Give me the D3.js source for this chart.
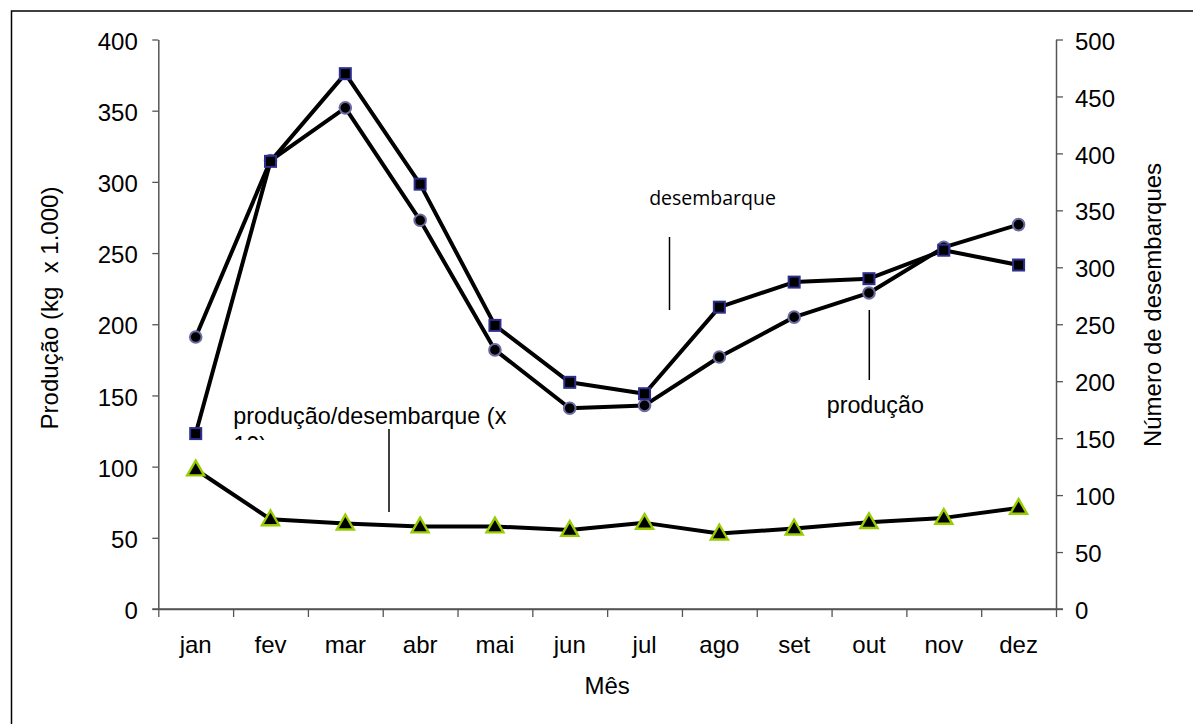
<!DOCTYPE html>
<html><head><meta charset="utf-8">
<script src="https://cdn.jsdelivr.net/npm/d3@7"></script>
<style>
body{margin:0;background:#fff}
svg{display:block}
</style>
</head><body>
<svg id="chart" width="1193" height="724"></svg>
<script>
const months = ["jan","fev","mar","abr","mai","jun","jul","ago","set","out","nov","dez"];
const producao = [191,315,352,273,182,141,143,177,205,222,254,270];       // kg x 1.000 (left axis)
const desembarques = [154,393,470,373,249,199,189,265,287,290,315,302];   // número (right axis)
const razao = [98,63,60,58,58,55.5,60.5,53,56.5,61,64,71];                // produção/desembarque (x 10)
const leftTicks = [0,50,100,150,200,250,300,350,400];
const rightTicks = [0,50,100,150,200,250,300,350,400,450,500];

const svg = d3.select("#chart");
const FONT = "'Liberation Sans', Arial, sans-serif";
const L = 158.3, R = 1056, T = 39.5, B = 609;

// outer frame
svg.append("rect").attr("x",11.5).attr("y",11).attr("width",1200).attr("height",800)
  .attr("fill","none").attr("stroke","#000").attr("stroke-width",1.5);

const x = d3.scaleBand().domain(months).range([L,R]).padding(0);
const xi = d3.scaleLinear().domain([0,12]).range([L,R]);
const yL = d3.scaleLinear().domain([0,400]).range([B,T]);
const yR = d3.scaleLinear().domain([0,500]).range([B,T]);
const cx = m => x(m) + x.bandwidth()/2;

const axisColor = "#555";
const gL = svg.append("g").attr("transform",`translate(${L},0)`)
  .call(d3.axisLeft(yL).tickValues(leftTicks).tickSize(6).tickSizeOuter(0).tickPadding(14.5));
const gR = svg.append("g").attr("transform",`translate(${R},0)`)
  .call(d3.axisRight(yR).tickValues(rightTicks).tickSize(7).tickSizeOuter(0).tickPadding(12));
const gB = svg.append("g").attr("transform",`translate(0,${B})`)
  .call(d3.axisBottom(xi).tickValues(d3.range(0,13)).tickFormat("").tickSize(8).tickSizeOuter(0));
const gBL = svg.append("g").attr("transform",`translate(0,${B})`)
  .call(d3.axisBottom(x).tickSize(0).tickSizeOuter(0));
gBL.select(".domain").remove();
gBL.selectAll("text").attr("y",44).attr("dy",0);

[gL,gR,gB,gBL].forEach(g=>{
  g.selectAll(".domain").attr("stroke",axisColor).attr("stroke-width",1.5);
  g.selectAll(".tick line").attr("stroke",axisColor).attr("stroke-width",1.3);
  g.selectAll("text").attr("font-family",FONT).attr("font-size",24).attr("fill","#000");
});
gL.selectAll("text").attr("dy","0.4em");
gR.selectAll("text").attr("dy","0.4em");
svg.append("line").attr("x1",L-6).attr("x2",R+7).attr("y1",B).attr("y2",B)
  .attr("stroke",axisColor).attr("stroke-width",1.5);

// axis titles
svg.append("text").attr("transform","translate(58,308) rotate(-90)")
  .attr("text-anchor","middle").attr("font-family",FONT).attr("font-size",24)
  .style("white-space","pre").text("Produção (kg  x 1.000)");
svg.append("text").attr("transform","translate(1161,305) rotate(-90)")
  .attr("text-anchor","middle").attr("font-family",FONT).attr("font-size",24)
  .text("Número de desembarques");
svg.append("text").attr("x",(L+R)/2).attr("y",694).attr("text-anchor","middle")
  .attr("font-family",FONT).attr("font-size",24).text("Mês");

const line = (ys, vals) => d3.line().x((d,i)=>cx(months[i])).y(d=>ys(d))(vals);

// produção series (circles)
svg.append("path").attr("d",line(yL,producao)).attr("fill","none")
  .attr("stroke","#000").attr("stroke-width",4).attr("stroke-linejoin","round");
svg.append("g").selectAll("circle").data(producao).join("circle")
  .attr("cx",(d,i)=>cx(months[i])).attr("cy",d=>yL(d)).attr("r",5.8)
  .attr("fill","#000").attr("stroke","#6b6ba3").attr("stroke-width",2);

// desembarques series (squares)
svg.append("path").attr("d",line(yR,desembarques)).attr("fill","none")
  .attr("stroke","#000").attr("stroke-width",4).attr("stroke-linejoin","round");
svg.append("g").selectAll("rect").data(desembarques).join("rect")
  .attr("x",(d,i)=>cx(months[i])-5.5).attr("y",d=>yR(d)-5.5).attr("width",11).attr("height",11)
  .attr("fill","#000").attr("stroke","#2e2e8f").attr("stroke-width",2);

// razão series (triangles)
svg.append("path").attr("d",line(yL,razao)).attr("fill","none")
  .attr("stroke","#000").attr("stroke-width",4).attr("stroke-linejoin","round");
const tri = d3.symbol().type(d3.symbolTriangle).size(125);
svg.append("g").selectAll("path").data(razao).join("path")
  .attr("d",tri).attr("transform",(d,i)=>`translate(${cx(months[i])},${yL(d)+1})`)
  .attr("fill","#000").attr("stroke","#99cc00").attr("stroke-width",2.4);

// annotations
svg.append("text").attr("x",712.5).attr("y",205).attr("text-anchor","middle")
  .attr("font-family","'Open Sans', sans-serif").attr("font-size",19.5).text("desembarque");
svg.append("line").attr("x1",669.5).attr("x2",669.5).attr("y1",237).attr("y2",310)
  .attr("stroke","#000").attr("stroke-width",1.5);

svg.append("text").attr("x",826.7).attr("y",413).attr("font-family",FONT)
  .attr("font-size",23.3).text("produção");
svg.append("line").attr("x1",869.3).attr("x2",869.3).attr("y1",310).attr("y2",380)
  .attr("stroke","#000").attr("stroke-width",1.5);

const defs = svg.append("defs");
defs.append("clipPath").attr("id","clipRatio").append("rect")
  .attr("x",225).attr("y",395).attr("width",300).attr("height",45);
const rt = svg.append("text").attr("clip-path","url(#clipRatio)")
  .attr("font-family",FONT).attr("font-size",23.4);
rt.append("tspan").attr("x",233.3).attr("y",424).text("produção/desembarque (x");
rt.append("tspan").attr("x",233.3).attr("y",453).text("10)");
svg.append("line").attr("x1",389).attr("x2",389).attr("y1",429).attr("y2",512)
  .attr("stroke","#000").attr("stroke-width",1.5);
</script>
</body></html>
